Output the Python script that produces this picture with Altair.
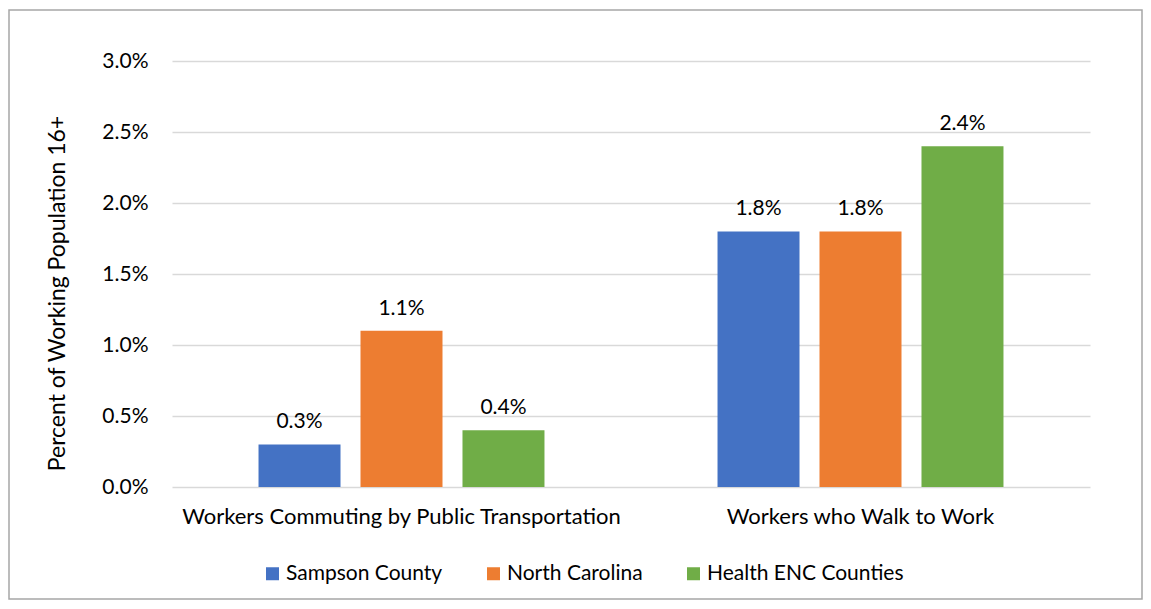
import altair as alt
import pandas as pd

categories = ["Workers Commuting by Public Transportation", "Workers who Walk to Work"]
series = ["Sampson County", "North Carolina", "Health ENC Counties"]
colors = ["#4472C4", "#ED7D31", "#70AD47"]
public_transport = [0.003, 0.011, 0.004]
walk_to_work = [0.018, 0.018, 0.024]
y_ticks = [0, 0.005, 0.01, 0.015, 0.02, 0.025, 0.03]

rows = []
for s, v in zip(series, public_transport):
    rows.append({"category": categories[0], "series": s, "value": v})
for s, v in zip(series, walk_to_work):
    rows.append({"category": categories[1], "series": s, "value": v})
df = pd.DataFrame(rows)

FONT = "Lato"

x_enc = alt.X("category:N", sort=categories, title=None,
              scale=alt.Scale(paddingInner=0.377, paddingOuter=0.1885),
              axis=alt.Axis(labelAngle=0, labelFontSize=22, labelColor="#000000",
                            labelPadding=19, ticks=False, domain=False, labelFont=FONT,
                            labelLimit=0, grid=False))
xo_enc = alt.XOffset("series:N", sort=series,
                     scale=alt.Scale(paddingInner=0.196, paddingOuter=0))
y_enc = alt.Y("value:Q", title="Percent of Working Population 16+",
              scale=alt.Scale(domain=[0, 0.03], nice=False),
              axis=alt.Axis(values=y_ticks, format=".1%", labelFontSize=21,
                            labelColor="#000000", labelPadding=24, ticks=False,
                            domain=False, gridColor="#d9d9d9", gridWidth=1.3,
                            labelFont=FONT, titleFont=FONT, titleFontSize=23,
                            titleFontWeight="normal", titleColor="#000000",
                            titleX=-115, titleY=232, titleAngle=270,
                            titleBaseline="middle", titleAlign="center"))

bars = alt.Chart(df).mark_bar().encode(
    x=x_enc, xOffset=xo_enc, y=y_enc,
    color=alt.Color("series:N", sort=series,
                    scale=alt.Scale(domain=series, range=colors),
                    legend=alt.Legend(title=None, orient="none", direction="horizontal",
                                      legendX=90, legendY=502, symbolType="square",
                                      symbolSize=169, symbolStrokeWidth=0,
                                      labelFontSize=21, labelFont=FONT, labelLimit=0,
                                      labelColor="#000000", labelOffset=3,
                                      columnPadding=40)),
)

labels = alt.Chart(df).mark_text(baseline="alphabetic", dy=-16, fontSize=21,
                                 font=FONT, color="#000000").encode(
    x=alt.X("category:N", sort=categories),
    xOffset=alt.XOffset("series:N", sort=series),
    y="value:Q",
    text=alt.Text("value:Q", format=".1%"),
)

frame = alt.Chart(pd.DataFrame({"a": [0]})).mark_rect(
    fill="transparent", stroke="#a6a6a6", strokeWidth=1.5).encode(
    x=alt.value(-163), x2=alt.value(970), y=alt.value(-51), y2=alt.value(538))

chart = alt.layer(bars, labels, frame).properties(
    width=918, height=426,
    padding={"left": 164, "top": 53, "right": 53, "bottom": 114},
    autosize=alt.AutoSizeParams(type="none"),
).configure(background="#ffffff").configure_view(stroke="transparent", strokeWidth=0)

chart.save("out.html", embed_options={"renderer": "svg", "actions": False})
